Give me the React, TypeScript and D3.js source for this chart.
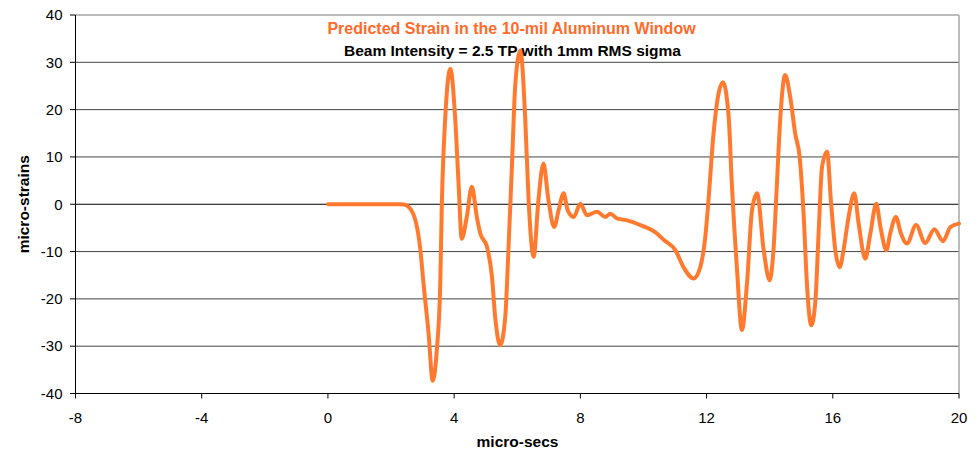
import React from "react";
import * as d3 from "d3";

const times = [0, 0.5, 1.0, 1.5, 2.0, 2.3, 2.44, 2.70, 2.93, 3.03, 3.19, 3.32, 3.45, 3.56, 3.61, 3.72, 3.88, 4.03, 4.14, 4.24, 4.40, 4.56, 4.72, 4.83, 5.04, 5.20, 5.30, 5.46, 5.62, 5.72, 5.83, 5.94, 6.10, 6.25, 6.36, 6.52, 6.67, 6.83, 6.99, 7.17, 7.31, 7.47, 7.60, 7.79, 8.0, 8.21, 8.53, 8.79, 8.95, 9.16, 9.48, 9.90, 10.37, 10.64, 11.01, 11.27, 11.59, 11.80, 11.96, 12.06, 12.22, 12.38, 12.52, 12.70, 12.80, 12.96, 13.12, 13.28, 13.44, 13.60, 13.81, 14.0, 14.12, 14.23, 14.34, 14.49, 14.65, 14.81, 14.95, 15.08, 15.18, 15.32, 15.45, 15.55, 15.66, 15.82, 15.94, 16.08, 16.22, 16.34, 16.50, 16.68, 16.82, 17.03, 17.19, 17.38, 17.51, 17.70, 17.82, 18.00, 18.16, 18.35, 18.64, 18.93, 19.22, 19.49, 19.73, 20.0];
const strains = [0, 0, 0, 0, 0, 0, -0.1, -2.0, -9.7, -16.8, -27.3, -37.3, -30.9, -16.8, 0, 18.5, 28.6, 18.5, 4.4, -7.3, -2.7, 3.7, -2.7, -6.2, -9.0, -15.4, -23.8, -29.8, -23.8, -9.7, 7.9, 25.5, 32.5, 18.5, 0.8, -11.1, 0.8, 8.6, 0.8, -4.8, -1.3, 2.3, -1.3, -2.7, 0.1, -2.3, -1.6, -2.7, -2.0, -3.0, -3.4, -4.4, -5.9, -7.5, -9.7, -13.3, -15.7, -13.3, -6.9, 0.8, 14.9, 23.4, 25.8, 18.5, 4.4, -13.3, -26.6, -16.8, -1.3, 2.3, -9.7, -16.1, -9.7, 4.4, 18.5, 27.3, 22.7, 14.9, 10.0, -2.7, -16.8, -25.6, -20.3, -6.2, 7.9, 11.1, 0.8, -9.7, -13.3, -9.7, -2.7, 2.3, -4.1, -11.5, -6.2, 0.1, -4.8, -9.7, -6.2, -2.7, -6.2, -8.3, -4.4, -8.2, -5.3, -7.8, -4.8, -4.1];

const xTicks = [-8, -4, 0, 4, 8, 12, 16, 20];
const yTicks = [-40, -30, -20, -10, 0, 10, 20, 30, 40];

const title = "Predicted Strain in the 10-mil Aluminum Window";
const subtitle = "Beam Intensity = 2.5 TP with 1mm RMS sigma";
const xLabel = "micro-secs";
const yLabel = "micro-strains";

export default function App() {
  const W = 980, H = 452;
  const left = 75.5, right = 959, top = 15, bottom = 393.5;
  const x = d3.scaleLinear().domain([-8, 20]).range([left, right]);
  const y = d3.scaleLinear().domain([-40, 40]).range([bottom, top]);
  const pts = times.map((t, i) => [t, strains[i]] as [number, number]);
  const line = d3.line<[number, number]>().x(d => x(d[0])).y(d => y(d[1])).curve(d3.curveMonotoneX);
  const font = "'Liberation Sans', Arial, sans-serif";
  return (
    <svg width={W} height={H} style={{ position: "absolute", left: 0, top: 0, background: "#fff" }} fontFamily={font}>
      <rect x={0} y={0} width={W} height={H} fill="#fff" />
      {yTicks.filter(v => v !== -40 && v !== 40).map(v => (
        <line key={"g" + v} x1={left} x2={right} y1={y(v)} y2={y(v)} stroke={v === 0 ? "#000" : "#444"} strokeWidth={1} />
      ))}
      <line x1={left} x2={right} y1={top} y2={top} stroke="#a6a6a6" strokeWidth={1.5} />
      <line x1={right} x2={right} y1={top} y2={bottom} stroke="#a6a6a6" strokeWidth={1.5} />
      <line x1={left} x2={left} y1={top} y2={bottom} stroke="#000" strokeWidth={1} />
      <line x1={left} x2={right} y1={bottom} y2={bottom} stroke="#000" strokeWidth={1} />
      {yTicks.map(v => (
        <g key={"y" + v}>
          <line x1={left - 5.5} x2={left} y1={y(v)} y2={y(v)} stroke="#000" />
          <text x={left - 13} y={y(v)} dy="0.35em" textAnchor="end" fontSize={15} fill="#000">{v}</text>
        </g>
      ))}
      {xTicks.map(v => (
        <g key={"x" + v}>
          <line x1={x(v)} x2={x(v)} y1={bottom} y2={bottom + 5} stroke="#000" />
          <text x={x(v)} y={bottom + 29} textAnchor="middle" fontSize={15} fill="#000">{v}</text>
        </g>
      ))}
      <path d={line(pts) || ""} fill="none" stroke="#FF7A2E" strokeWidth={4} strokeLinejoin="round" strokeLinecap="round" />
      <text x={511.5} y={34} textAnchor="middle" fontSize={16} fontWeight="bold" fill="#FF6A2A">{title}</text>
      <text x={512.5} y={55.7} textAnchor="middle" fontSize={15.5} fontWeight="bold" fill="#000">{subtitle}</text>
      <text x={517.5} y={447} textAnchor="middle" fontSize={15.5} fontWeight="bold" fill="#000">{xLabel}</text>
      <text transform={`translate(29,${(top + bottom) / 2}) rotate(-90)`} textAnchor="middle" fontSize={15.5} fontWeight="bold" fill="#000">{yLabel}</text>
    </svg>
  );
}
